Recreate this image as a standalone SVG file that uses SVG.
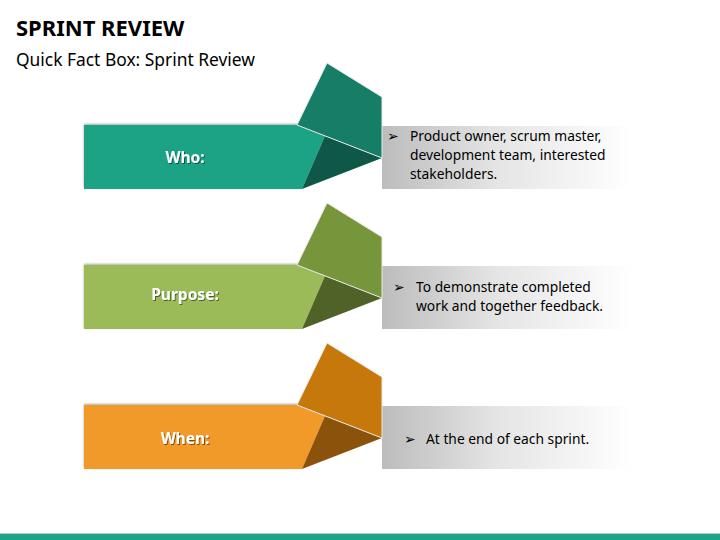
<svg xmlns="http://www.w3.org/2000/svg" width="720" height="540" viewBox="0 0 720 540">
<defs>
<linearGradient id="gr" x1="0" y1="0" x2="1" y2="0">
<stop offset="0" stop-color="#bcbcbc"/>
<stop offset="0.45" stop-color="#e4e4e4"/>
<stop offset="1" stop-color="#ffffff"/>
</linearGradient>
<filter id="sh" x="-10%" y="-20%" width="120%" height="140%">
<feDropShadow dx="0" dy="-1" stdDeviation="1.2" flood-color="#000" flood-opacity="0.35"/>
</filter>
<filter id="ts" x="-20%" y="-40%" width="140%" height="180%">
<feDropShadow dx="1" dy="1" stdDeviation="0.6" flood-color="#000" flood-opacity="0.5"/>
</filter>
<style>
.t{font-family:"Noto Sans","Open Sans",sans-serif;fill:#000}
.lbl{font-family:"Noto Sans","Open Sans",sans-serif;font-weight:bold;font-size:15.5px;fill:#fff;text-anchor:middle}
.bt{font-family:"Noto Sans","Open Sans",sans-serif;font-size:13.8px;fill:#000}
.ar{font-family:"DejaVu Sans",sans-serif;font-size:14px;fill:#000}
.flap{stroke:#e8e8e8;stroke-width:1}
</style>
</defs>
<rect width="720" height="540" fill="#fff"/>
<text class="t" x="16" y="36" font-size="22" font-weight="bold">SPRINT REVIEW</text>
<text class="t" x="16" y="66" font-size="17.4">Quick Fact Box: Sprint Review</text>

<g id="who">
<rect x="382" y="126" width="250" height="63" fill="url(#gr)"/>
<polygon points="84,125 297,125 325,136 302,189 84,189" fill="#1fa386" filter="url(#sh)"/>
<polygon points="325,136 382,158 302,189" fill="#0f5848"/>
<polygon class="flap" points="297,125 327,63 382,97 382,158" fill="#167d66"/>
<text class="lbl" x="185" y="163" filter="url(#ts)">Who:</text>
<text class="ar" x="387" y="141">➢</text>
<text class="bt" x="410" y="141">Product owner, scrum master,</text>
<text class="bt" x="410" y="160">development team, interested</text>
<text class="bt" x="410" y="179">stakeholders.</text>
</g>

<g id="purpose">
<rect x="382" y="266" width="250" height="63" fill="url(#gr)"/>
<polygon points="84,265 297,265 325,276 302,329 84,329" fill="#9bbb59" filter="url(#sh)"/>
<polygon points="325,276 382,298 302,329" fill="#4f6228"/>
<polygon class="flap" points="297,265 327,203 382,237 382,298" fill="#77963c"/>
<text class="lbl" x="185" y="300" filter="url(#ts)">Purpose:</text>
<text class="ar" x="393" y="292">➢</text>
<text class="bt" x="416" y="292">To demonstrate completed</text>
<text class="bt" x="416" y="311">work and together feedback.</text>
</g>

<g id="when">
<rect x="382" y="406" width="250" height="63" fill="url(#gr)"/>
<polygon points="84,405 297,405 325,416 302,469 84,469" fill="#f19a2a" filter="url(#sh)"/>
<polygon points="325,416 382,438 302,469" fill="#8a520a"/>
<polygon class="flap" points="297,405 327,343 382,377 382,438" fill="#c6780b"/>
<text class="lbl" x="185" y="444" filter="url(#ts)">When:</text>
<text class="ar" x="404" y="444">➢</text>
<text class="bt" x="426" y="444">At the end of each sprint.</text>
</g>

<g id="connectors"></g>
<rect x="0" y="533" width="720" height="1" fill="#a8d8cc"/>
<rect x="0" y="534" width="720" height="6" fill="#1fa386"/>
</svg>
